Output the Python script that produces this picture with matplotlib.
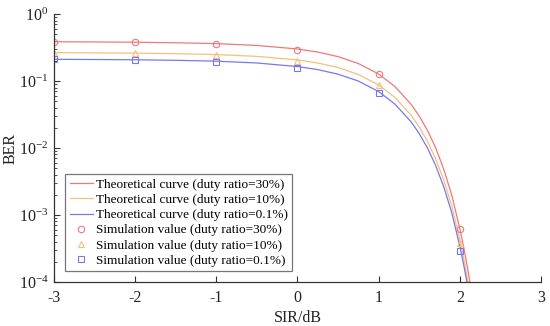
import matplotlib
matplotlib.use("Agg")
import matplotlib.pyplot as plt
from matplotlib.ticker import LogLocator, FixedLocator

plt.rcParams['font.family'] = ['Liberation Serif', 'DejaVu Serif']
plt.rcParams['mathtext.fontset'] = 'custom'
plt.rcParams['mathtext.rm'] = 'Liberation Serif'
plt.rcParams['mathtext.it'] = 'Liberation Serif:italic'
plt.rcParams['axes.unicode_minus'] = False

# Theoretical curves
x_theory = [-3, -2.5, -2, -1.5, -1, -0.5, 0, 0.25, 0.5, 0.75, 1, 1.2, 1.4, 1.5,
            1.6, 1.7, 1.8, 1.9, 2.0, 2.05, 2.1, 2.15, 2.2]
ber_theory_30 = [0.3855, 0.3828, 0.3793, 0.3724, 0.3614, 0.3396, 0.3006, 0.2704,
                 0.2312, 0.1824, 0.1271, 0.0828, 0.0449, 0.0300, 0.0184, 0.0102,
                 0.0049, 0.0020, 6.25e-4, 3.21e-4, 1.50e-4, 6.4e-5, 2.5e-5]
ber_theory_10 = [0.2649, 0.2630, 0.2606, 0.2559, 0.2483, 0.2333, 0.2065, 0.1858,
                 0.1589, 0.1253, 0.0873, 0.0569, 0.0308, 0.0206, 0.01265, 0.00702,
                 0.00337, 0.00137, 4.30e-4, 2.20e-4, 1.03e-4, 4.4e-5, 1.75e-5]
ber_theory_01 = [0.2109, 0.2094, 0.2075, 0.2037, 0.1977, 0.1858, 0.1644, 0.1479,
                 0.1265, 0.0998, 0.0695, 0.0453, 0.02455, 0.01641, 0.01007, 0.00558,
                 0.00268, 0.00109, 3.42e-4, 1.75e-4, 8.2e-5, 3.5e-5, 1.4e-5]

# Simulation values
x_sim = [-3, -2, -1, 0, 1, 2]
ber_sim_30 = [0.386, 0.380, 0.360, 0.293, 0.126, 6.1e-4]
ber_sim_10 = [0.265, 0.260, 0.247, 0.201, 0.086, 3.8e-4]
ber_sim_01 = [0.211, 0.205, 0.194, 0.158, 0.067, 2.9e-4]

labels_theory = ["Theoretical curve (duty ratio=30%)",
                 "Theoretical curve (duty ratio=10%)",
                 "Theoretical curve (duty ratio=0.1%)"]
labels_sim = ["Simulation value (duty ratio=30%)",
              "Simulation value (duty ratio=10%)",
              "Simulation value (duty ratio=0.1%)"]
x_ticks = [-3, -2, -1, 0, 1, 2, 3]

c_red = '#f07878'
c_yel = '#f5c07a'
c_blu = '#7878ee'

fig = plt.figure(figsize=(5.5, 3.26), dpi=100)
ax = fig.add_axes([0.0982, 0.135, 0.8854, 0.822])

ax.plot(x_theory, ber_theory_30, color=c_red, lw=0.9, label=labels_theory[0])
ax.plot(x_theory, ber_theory_10, color=c_yel, lw=0.9, label=labels_theory[1])
ax.plot(x_theory, ber_theory_01, color=c_blu, lw=0.9, label=labels_theory[2])
ax.plot(x_sim, ber_sim_30, ls='none', marker='o', ms=4.6, mfc='none', mec=c_red,
        mew=0.8, label=labels_sim[0])
ax.plot(x_sim, ber_sim_10, ls='none', marker='^', ms=4.6, mfc='none', mec=c_yel,
        mew=0.8, label=labels_sim[1])
ax.plot(x_sim, ber_sim_01, ls='none', marker='s', ms=3.8, mfc='none', mec=c_blu,
        mew=0.8, label=labels_sim[2])

ax.set_yscale('log')
ax.set_xlim(-3, 3)
ax.set_ylim(1e-4, 1)
ax.xaxis.set_major_locator(FixedLocator(x_ticks))
ax.yaxis.set_major_locator(LogLocator(base=10, numticks=10))
ax.yaxis.set_minor_locator(LogLocator(base=10, subs=range(2, 10), numticks=20))

for s in ['top', 'right']:
    ax.spines[s].set_visible(False)
for s in ['left', 'bottom']:
    ax.spines[s].set_color('#333333')
    ax.spines[s].set_linewidth(0.9)

ax.tick_params(axis='both', which='major', direction='in', length=4, width=0.8,
               colors='#333333', labelsize=11.5, labelcolor='#222222')
ax.tick_params(axis='y', which='minor', direction='in', length=2.5, width=0.6,
               colors='#333333')
ax.tick_params(axis='x', which='major', pad=6)
ax.tick_params(axis='y', which='major', pad=4)

ax.set_xlabel('SIR/dB', fontsize=11.5, color='#222222', labelpad=3)
ax.set_ylabel('BER', fontsize=11.5, color='#222222')
ax.yaxis.set_label_coords(-0.072, 0.5)

leg = ax.legend(loc='lower left', bbox_to_anchor=(0.023, 0.04), fontsize=9.5,
                frameon=True, fancybox=False, edgecolor='#555555',
                handlelength=1.75, handletextpad=0.2, borderpad=0.35,
                labelspacing=0.22, borderaxespad=0.0)
leg.get_frame().set_linewidth(0.9)

fig.savefig('out.png', dpi=100)
